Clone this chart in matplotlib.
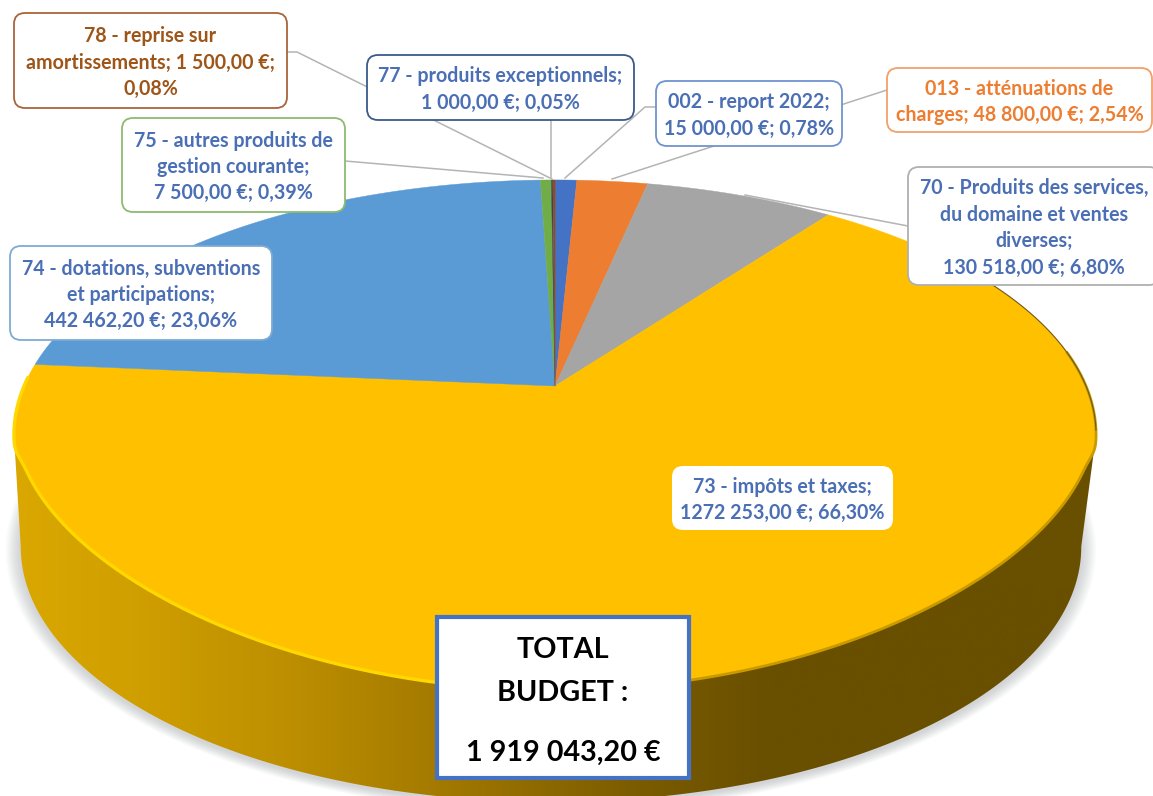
# Recettes de fonctionnement - 3D pie redrawn with a hand made projection

import matplotlib
matplotlib.use("Agg")
import matplotlib.pyplot as plt
from matplotlib.colors import LinearSegmentedColormap
from matplotlib.patches import FancyBboxPatch, Polygon, Rectangle
import numpy as np

plt.rcParams['font.family'] = ['Lato', 'DejaVu Sans']

# Slices, clockwise from 12 o'clock
codes = ["002", "013", "70", "73", "74", "75", "77", "78"]
values = [15000.00, 48800.00, 130518.00, 1272253.00, 442462.20, 7500.00, 1000.00, 1500.00]
colors = ["#4472C4", "#ED7D31", "#A5A5A5", "#FFC000", "#5B9BD5", "#70AD47", "#264478", "#9E480E"]

# Labels
label_texts = [
    "002 - report 2022;\n15 000,00 €; 0,78%",
    "013 - atténuations de\ncharges; 48 800,00 €; 2,54%",
    "70 - Produits des services,\ndu domaine et ventes\ndiverses;\n130 518,00 €; 6,80%",
    "73 - impôts et taxes;\n1272 253,00 €; 66,30%",
    "74 - dotations, subventions\net participations;\n442 462,20 €; 23,06%",
    "75 - autres produits de\ngestion courante;\n7 500,00 €; 0,39%",
    "77 - produits exceptionnels;\n1 000,00 €; 0,05%",
    "78 - reprise sur\namortissements; 1 500,00 €;\n0,08%",
]
total_lines = ["TOTAL", "BUDGET :", "1 919 043,20 €"]

# Projection of the disc (pixels)
CX, CY = 555, 386
A, B, K = 531, 245.6, 0.192
DEPTH = 112
BOTTOM_SCALE = 0.98
BOTTOM_SHIFT = -4
# the near rim is a bit flatter than a true ellipse
RIM_Y, RIM_H, RIM_PULL = 435, 255, 19


def project(theta):
    # theta is clockwise from the top, radians
    x, y = np.sin(theta), np.cos(theta)
    d = 1 + K * y
    px, py = CX + A * x / d, CY - B * y / d
    w = np.clip((py - RIM_Y) / RIM_H, 0, 1)
    ramp = np.minimum(w / 0.22, 1)
    return px, py - RIM_PULL * (1 - w ** 3) * ramp * ramp * (3 - 2 * ramp)


def project_bottom(theta):
    x, y = np.sin(theta), np.cos(theta)
    d = 1 + K * y
    return CX + BOTTOM_SHIFT + BOTTOM_SCALE * A * x / d, CY + DEPTH - B * y / d


fig = plt.figure(figsize=(11.53, 7.96), dpi=100)
ax = fig.add_axes([0, 0, 1, 1])

# Soft shadow under the pie
t = np.linspace(0, 2 * np.pi, 400)
bx, by = project_bottom(t)
for s in np.linspace(1.028, 1.002, 12):
    ax.add_patch(Polygon(np.c_[CX + (bx - CX) * s, CY + DEPTH + (by - CY - DEPTH) * s + 2],
                         closed=True, fc="#8a8f96", ec="none", alpha=0.035, zorder=1))

# Side wall, shading from left to right
t = np.radians(np.linspace(101, 259, 300))
tx, ty = project(t)
bx, by = project_bottom(t)
wall = Polygon(np.r_[np.c_[tx, ty], np.c_[bx, by][::-1]], closed=True, fc="none", ec="none", zorder=2)
ax.add_patch(wall)
wall_cmap = LinearSegmentedColormap.from_list("wall", [
    (0.00, "#694F00"), (0.30, "#694F00"), (0.42, "#7A5B00"), (0.52, "#8F6A00"),
    (0.62, "#A67C00"), (0.75, "#BE8F00"), (0.90, "#D1A000"), (1.00, "#DBA800")])
img = ax.imshow(np.linspace(1, 0, 512).reshape(1, -1), cmap=wall_cmap, vmin=0, vmax=1,
                extent=[12, 1097, 800, 380], aspect="auto", zorder=2)
img.set_clip_path(wall)

# Top of the pie, one polygon per value
total = sum(values)
start = 0
for value, color in zip(values, colors):
    end = start + value / total * 2 * np.pi
    th = np.linspace(start, end, max(int(value / total * 400), 2) + 1)
    px, py = project(th)
    ax.add_patch(Polygon(np.r_[[[CX, CY]], np.c_[px, py]], closed=True, fc=color, ec=color,
                         lw=0.3, zorder=3))
    start = end

# Bevel along the rim: bright on the left, dark on the right
th = np.linspace(np.radians(190), np.radians(272), 160)
px, py = project(th)
ax.plot(px, py, color="#FFD800", lw=2.4, zorder=4, solid_capstyle="round")
th = np.linspace(np.radians(82), np.radians(190), 120)
px, py = project(th)
ax.plot(px, py, color="#C99A00", lw=2.0, zorder=4)
th = np.linspace(np.radians(60), np.radians(100), 60)
px, py = project(th)
ax.plot(px, py, color="#6E5A20", lw=0.8, zorder=4)

# Leader lines
leaders = [
    ([287, 297, 552], [52, 52, 179]),
    ([551, 551], [120, 177]),
    ([345, 543], [161, 178]),
    ([656, 645, 565], [107, 107, 178]),
    ([887, 612], [90, 179]),
    ([908, 745], [226, 195]),
]
for lx, ly in leaders:
    ax.plot(lx, ly, color="#B4B4B4", lw=1.1, zorder=5)

# Label boxes: x0, y0, x1, y1, edge colour, text colour
BLUE_TEXT = "#4A6FB5"
boxes = {
    "002": (656, 81, 842, 146, "#6F93CF", BLUE_TEXT),
    "013": (887, 68, 1152, 132, "#F2A06A", "#ED7D31"),
    "70": (908, 167, 1160, 285, "#B0B0B0", BLUE_TEXT),
    "73": (672, 466, 893, 530, "none", BLUE_TEXT),
    "74": (10, 246, 272, 340, "#7FAAD3", BLUE_TEXT),
    "75": (122, 118, 345, 212, "#8DBB70", BLUE_TEXT),
    "77": (367, 55, 634, 120, "#3A5A8C", BLUE_TEXT),
    "78": (14, 13, 287, 108, "#A8643A", "#9E5518"),
}
for code, text in zip(codes, label_texts):
    x0, y0, x1, y1, edge, tcolor = boxes[code]
    ax.add_patch(FancyBboxPatch((x0 + 11, y0 + 11), x1 - x0 - 22, y1 - y0 - 22,
                                boxstyle="round,pad=11,rounding_size=11", fc="white", ec=edge,
                                lw=1.3, zorder=6))
    ax.text((x0 + x1) / 2 if code != "70" else 1034, (y0 + y1) / 2 + 2, text, color=tcolor, fontsize=14.1,
            fontweight="bold", ha="center", va="center", linespacing=1.4, zorder=7)

# Total box
ax.add_patch(Rectangle((437, 617), 252, 161, fc="white", ec="#4472C4", lw=3, zorder=8))
for line, y in zip(total_lines, [650, 693, 753]):
    ax.text(563, y, line, color="black", fontsize=20.7, fontweight="bold", ha="center", va="center", zorder=9)

ax.set_xlim(0, 1153)
ax.set_ylim(796, 0)
ax.axis("off")

fig.savefig("out.png", dpi=100)
